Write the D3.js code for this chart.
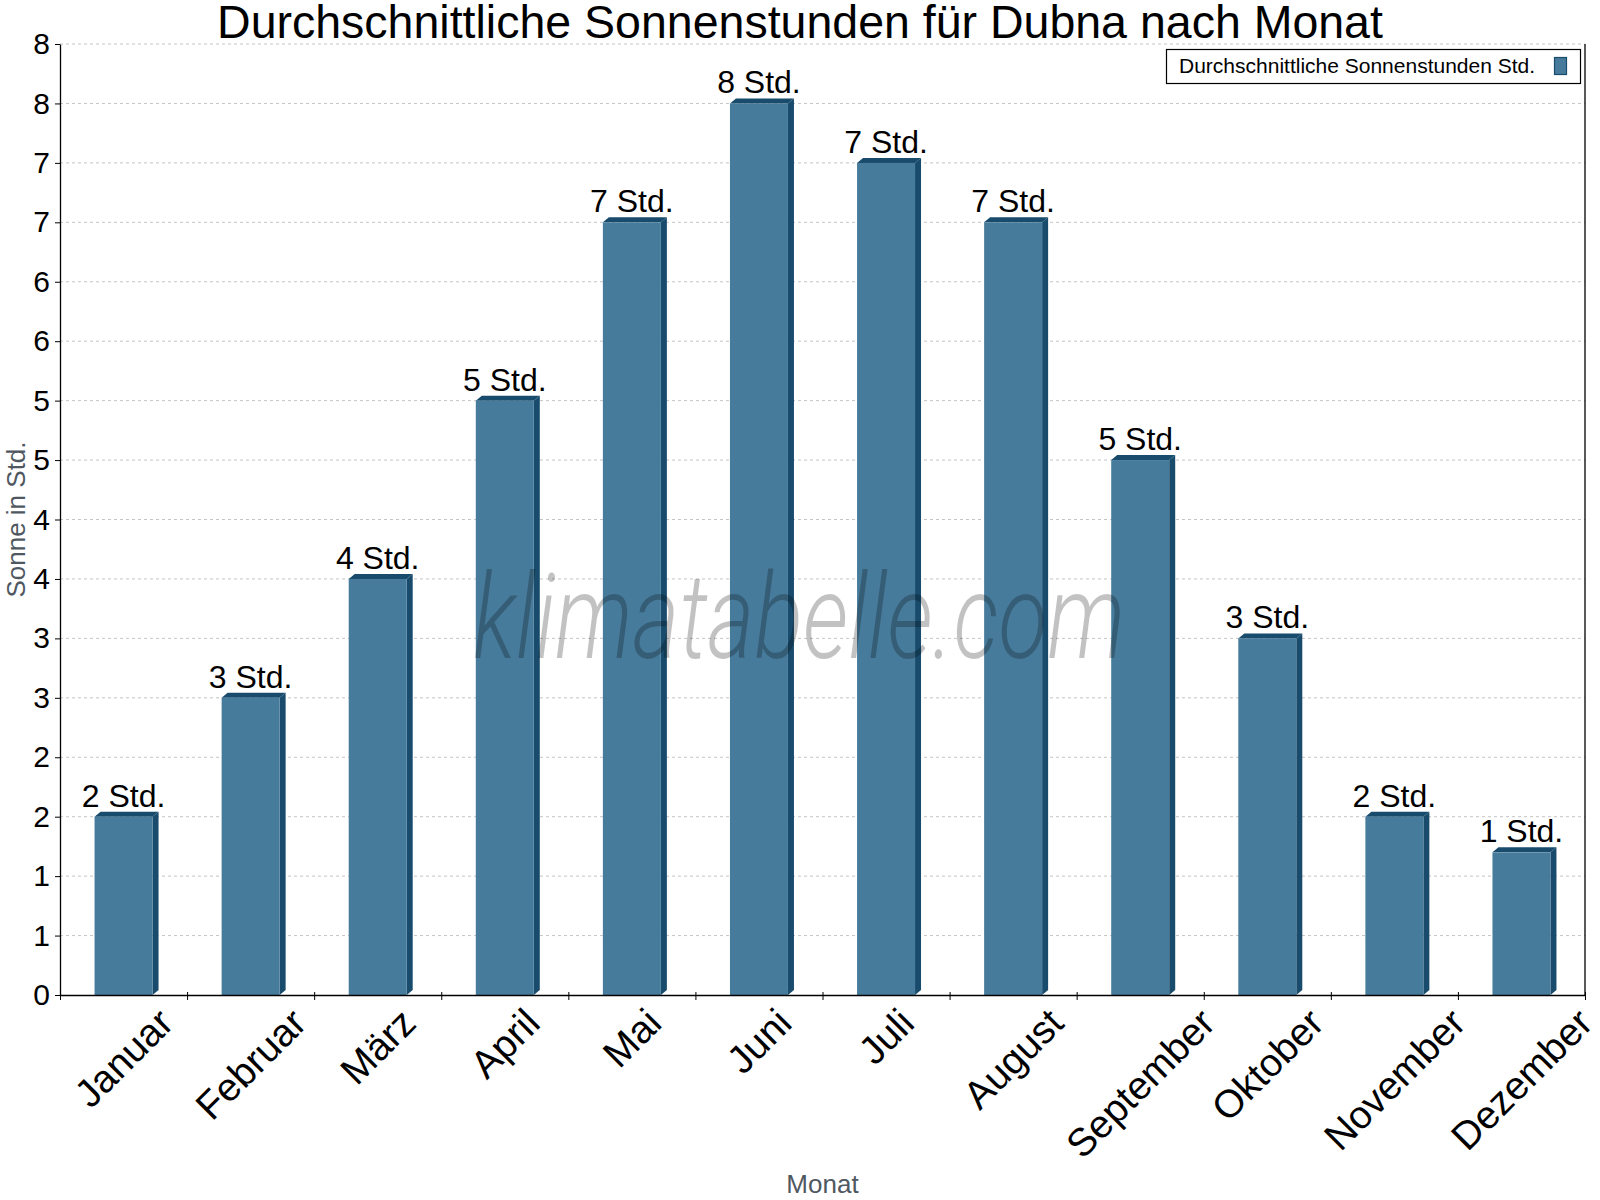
<!DOCTYPE html>
<html>
<head>
<meta charset="utf-8">
<script src="https://cdn.jsdelivr.net/npm/d3@7"></script>
<style>
  body { margin: 0; background: #fff; }
  text { font-family: "Liberation Sans", Arial, sans-serif; }
</style>
</head>
<body>
<script>
// monthly data
var months = ['Januar', 'Februar', 'März', 'April', 'Mai', 'Juni', 'Juli', 'August', 'September', 'Oktober', 'November', 'Dezember']
var sunHours = [1.5, 2.5, 3.5, 5.0, 6.5, 7.5, 7.0, 6.5, 4.5, 3.0, 1.5, 1.2]
var yTicks = [0, 0.5, 1, 1.5, 2, 2.5, 3, 3.5, 4, 4.5, 5, 5.5, 6, 6.5, 7, 7.5, 8]

var W = 1600, H = 1200
var margin = {left: 60, right: 15, top: 44, bottom: 205}
var x0 = margin.left, x1 = W - margin.right, yTop = margin.top, yBot = H - margin.bottom

var front = '#477b9c', dark = '#184b6c'

var svg = d3.select('body').append('svg').attr('width', W).attr('height', H)

var y = d3.scaleLinear().domain([0, 8]).range([yBot, yTop])
var x = d3.scaleBand().domain(months).range([x0, x1])
var edges = d3.scaleLinear().domain([0, months.length]).range([x0, x1])  // band boundaries for ticks

// grid
svg.append('g').selectAll('line').data(yTicks.filter(d => d > 0)).join('line')
  .attr('x1', x0).attr('x2', x1)
  .attr('y1', d => y(d)).attr('y2', d => y(d))
  .attr('stroke', '#c4c4c4').attr('stroke-dasharray', '3,3')

// right border
svg.append('line').attr('x1', x1).attr('x2', x1).attr('y1', yTop).attr('y2', yBot)
  .attr('stroke', '#000').attr('stroke-width', 1.3)

// bars with a little 3d depth
var bw = 58, dx = 6, dy = 5
var bars = svg.append('g').selectAll('g').data(sunHours).join('g')
bars.each(function (v, i) {
  var g = d3.select(this)
  var cx = x(months[i]) + x.bandwidth() / 2
  var l = cx - bw / 2, r = cx + bw / 2, t = y(v)
  g.append('polygon').attr('fill', dark)
    .attr('points', [[r, t], [r + dx, t - dy], [r + dx, yBot - dy], [r, yBot]].join(' '))
  g.append('polygon').attr('fill', dark)
    .attr('points', [[l, t], [l + dx, t - dy], [r + dx, t - dy], [r, t]].join(' '))
  g.append('rect').attr('x', l).attr('y', t).attr('width', bw).attr('height', yBot - t).attr('fill', front)
  g.append('text').text(Math.round(v) + ' Std.')
    .attr('x', cx).attr('y', t - 10).attr('text-anchor', 'middle')
    .style('font-size', '32px').attr('fill', '#000')
})

// watermark, drawn over the bars
svg.append('text').text('klimatabelle.com')
  .attr('x', 799).attr('y', 658).attr('text-anchor', 'middle')
  .attr('textLength', 652).attr('lengthAdjust', 'spacingAndGlyphs')
  .style('font-family', 'Roboto').style('font-weight', 300).style('font-style', 'italic')
  .style('font-size', '118px').attr('fill', 'rgba(0,0,0,0.24)')

// y axis
var yAxis = d3.axisLeft(y).tickValues(yTicks).tickFormat(d => Math.round(d)).tickSize(5).tickSizeOuter(0).tickPadding(5)
var ya = svg.append('g').attr('transform', `translate(${x0},0)`).call(yAxis)
ya.selectAll('text').style('font-size', '30px').attr('fill', '#000')
ya.select('.domain').attr('stroke-width', 1.3)

// x axis (ticks on band edges)
var xAxis = d3.axisBottom(edges).tickValues(d3.range(months.length + 1)).tickFormat('').tickSize(5).tickSizeOuter(0)
var xa = svg.append('g').attr('transform', `translate(0,${yBot})`).call(xAxis)
xa.selectAll('.tick line').attr('y1', -3)
xa.select('.domain').attr('stroke-width', 1.3)

// rotated month labels, centered under each band
var fs = 39
svg.append('g').selectAll('text').data(months).join('text')
  .text(d => d)
  .style('font-size', fs + 'px')
  .attr('text-anchor', 'middle')
  .each(function (d) {
    var w = this.getComputedTextLength()
    var cx = x(d) + x.bandwidth() / 2
    var cy = 1004 + (w + fs * 0.85) * 0.3536
    d3.select(this).attr('x', cx).attr('y', cy).attr('dy', '0.35em')
      .attr('transform', `rotate(-45,${cx},${cy})`)
  })

// titles
svg.append('text').text('Durchschnittliche Sonnenstunden für Dubna nach Monat')
  .attr('x', 800).attr('y', 38).attr('text-anchor', 'middle').style('font-size', '46.5px')

svg.append('text').text('Monat')
  .attr('x', (x0 + x1) / 2).attr('y', 1193).attr('text-anchor', 'middle')
  .style('font-size', '26px').attr('fill', '#4f5861')

svg.append('text').text('Sonne in Std.')
  .attr('transform', `translate(25,${(yTop + yBot) / 2}) rotate(-90)`)
  .attr('text-anchor', 'middle').style('font-size', '26px').attr('fill', '#4f5861')

// legend
var lg = svg.append('g')
lg.append('rect').attr('x', 1166.5).attr('y', 49.5).attr('width', 414).attr('height', 34)
  .attr('fill', '#fff').attr('stroke', '#000').attr('stroke-width', 1.2)
lg.append('text').text('Durchschnittliche Sonnenstunden Std.')
  .attr('x', 1179).attr('y', 73).style('font-size', '21px')
lg.append('rect').attr('x', 1554.5).attr('y', 57.5).attr('width', 12).attr('height', 17)
  .attr('fill', front).attr('stroke', dark).attr('stroke-width', 1.2)
</script>
</body>
</html>
